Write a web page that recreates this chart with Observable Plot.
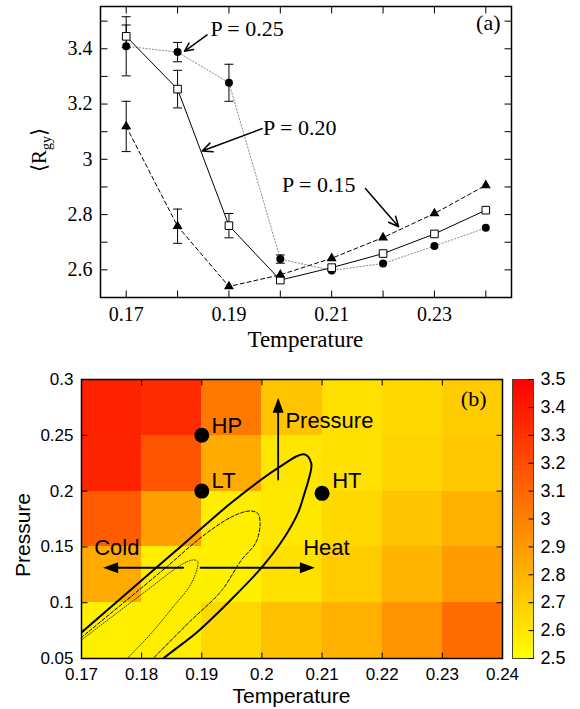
<!DOCTYPE html>
<html><head><meta charset="utf-8">
<script src="https://cdn.jsdelivr.net/npm/d3@7"></script>
<script src="https://cdn.jsdelivr.net/npm/@observablehq/plot@0.6"></script>
<style>
html,body{margin:0;padding:0;background:#fff;}
#chart{position:relative;width:580px;height:709px;overflow:hidden;background:#fff;}
#chart svg{position:absolute;}
</style></head><body><div id="chart"></div>
<script>
// ---------- Panel (a) data ----------
const temperatures = [0.17, 0.18, 0.19, 0.20, 0.21, 0.22, 0.23, 0.24];
const rgyP025 = [3.409, 3.388, 3.277, 2.639, 2.598, 2.623, 2.686, 2.752];
const errP025 = [0.107, 0.035, 0.067, 0.015, 0, 0, 0, 0];
const rgyP020 = [3.445, 3.254, 2.760, 2.563, 2.608, 2.659, 2.730, 2.816];
const errP020 = [0.041, 0.068, 0.044, 0, 0, 0, 0, 0];
const rgyP015 = [3.119, 2.758, 2.540, 2.582, 2.642, 2.717, 2.804, 2.906];
const errP015 = [0.091, 0.062, 0, 0, 0, 0, 0, 0];
const topXTicks = [0.17, 0.18, 0.19, 0.20, 0.21, 0.22, 0.23, 0.24];
const topXLabels = [0.17, 0.19, 0.21, 0.23];
const topYTicks = [2.6, 2.7, 2.8, 2.9, 3.0, 3.1, 3.2, 3.3, 3.4, 3.5];
const topYLabels = [2.6, 2.8, 3, 3.2, 3.4];
const seriesLabels = ["P = 0.25", "P = 0.20", "P = 0.15"];
const labelT = [0.1864, 0.19665, 0.20035];
const labelR = [3.470, 3.114, 2.908];
const arrowFromT = [0.18575, 0.19646, 0.21656];
const arrowFromR = [3.4505, 3.111, 2.8946];
const arrowToT = [0.18134, 0.18479, 0.22303];
const arrowToR = [3.391, 3.0303, 2.756];

// ---------- Panel (b) data ----------
const cellTEdges = [0.17, 0.18, 0.19, 0.20, 0.21, 0.22, 0.23, 0.24];
const cellPEdges = [0.05, 0.10, 0.15, 0.20, 0.25, 0.30];
const rgyRowP005 = [2.559, 2.567, 2.653, 2.747, 2.810, 2.920, 3.076];
const rgyRowP010 = [2.833, 2.567, 2.559, 2.622, 2.700, 2.794, 2.888];
const rgyRowP015 = [3.139, 2.873, 2.567, 2.590, 2.653, 2.731, 2.810];
const rgyRowP020 = [3.359, 3.167, 2.833, 2.598, 2.622, 2.669, 2.716];
const rgyRowP025 = [3.367, 3.335, 3.029, 2.731, 2.622, 2.653, 2.700];
const contourSolidT = [0.1680, 0.1700, 0.1827, 0.1866, 0.1949, 0.2027, 0.2070, 0.2082, 0.2077, 0.2071, 0.2060, 0.2035, 0.1999, 0.1949, 0.1894, 0.1836, 0.1826];
const contourSolidP = [0.0640, 0.0733, 0.1327, 0.1507, 0.1895, 0.2208, 0.2330, 0.2250, 0.2090, 0.1984, 0.1805, 0.1566, 0.1312, 0.1029, 0.0745, 0.0500, 0.0450];
const contourDashedT = [0.1685, 0.1700, 0.1841, 0.1900, 0.1950, 0.1980, 0.1993, 0.1997, 0.1990, 0.1965, 0.1933, 0.1880, 0.1819, 0.1810];
const contourDashedP = [0.0620, 0.0688, 0.1318, 0.1590, 0.1770, 0.1822, 0.1800, 0.1710, 0.1540, 0.1376, 0.1109, 0.0830, 0.0500, 0.0450];
const contourDottedT = [0.1685, 0.1700, 0.1811, 0.1866, 0.1885, 0.1893, 0.1892, 0.1880, 0.1852, 0.1815, 0.1778, 0.1770];
const contourDottedP = [0.0600, 0.0665, 0.1120, 0.1340, 0.1383, 0.1372, 0.1300, 0.1150, 0.0960, 0.0720, 0.0510, 0.0460];
const stateNames = ["HP", "LT", "HT"];
const stateT = [0.19, 0.19, 0.21];
const stateP = [0.25, 0.20, 0.198];
const stateLabelT = [0.19162, 0.19162, 0.21169];
const stateLabelP = [0.2585, 0.2092, 0.2092];
const moveNames = ["Pressure", "Cold", "Heat"];
const moveFromT = [0.2027, 0.1869, 0.1898];
const moveFromP = [0.2104, 0.1313, 0.1313];
const moveToT = [0.2027, 0.1736, 0.2088];
const moveToP = [0.2836, 0.1313, 0.1313];
const moveDir = [0, 270, 90];
const moveLabelT = [0.2039, 0.1721, 0.20686];
const moveLabelP = [0.2630, 0.1495, 0.1495];
const botXTicks = [0.17, 0.18, 0.19, 0.2, 0.21, 0.22, 0.23, 0.24];
const botYTicks = [0.05, 0.1, 0.15, 0.2, 0.25, 0.3];
const colorbarTicks = [2.5, 2.6, 2.7, 2.8, 2.9, 3, 3.1, 3.2, 3.3, 3.4, 3.5];

// ---------- helpers ----------
const tickShape = {draw(c, l) { c.moveTo(0, 0); c.lineTo(0, -l); }};
const headShape = {draw(c, l, r) { c.moveTo(0, -l); c.lineTo(-r, 0); c.lineTo(r, 0); c.closePath(); }};
function frameTicks(xs, ys, len, sw) {
  const o = {length: len, shape: tickShape, anchor: "start", stroke: "black", strokeWidth: sw, strokeLinecap: "butt"};
  return [
    Plot.vector(xs, {x: d => d, frameAnchor: "bottom", rotate: 0, ...o}),
    Plot.vector(xs, {x: d => d, frameAnchor: "top", rotate: 180, ...o}),
    Plot.vector(ys, {y: d => d, frameAnchor: "left", rotate: 90, ...o}),
    Plot.vector(ys, {y: d => d, frameAnchor: "right", rotate: 270, ...o})
  ];
}
const fmt = d => String(d);
const colorScale = {type: "linear", domain: [2.5, 3.5], range: ["#ffff00", "#ff0000"], interpolate: "rgb", clamp: true};

// ---------- Panel (a) ----------
const mk = (vals, errs) => temperatures.map((t, i) => ({t, v: vals[i], e: errs[i]}));
const s025 = mk(rgyP025, errP025), s020 = mk(rgyP020, errP020), s015 = mk(rgyP015, errP015);
const errPts = [...s025, ...s020, ...s015].filter(d => d.e > 0);
const annA = seriesLabels.map((s, i) => ({s, t: labelT[i], r: labelR[i], x1: arrowFromT[i], y1: arrowFromR[i], x2: arrowToT[i], y2: arrowToR[i]}));
const capOpt = {x: "t", length: 9, rotate: 90, anchor: "middle", shape: tickShape, stroke: "black", strokeWidth: 1, strokeLinecap: "butt"};

const plotA = Plot.plot({
  width: 580, height: 360,
  marginLeft: 100, marginRight: 69, marginTop: 6, marginBottom: 63,
  x: {domain: [0.165, 0.245], axis: null},
  y: {domain: [2.5, 3.553], axis: null},
  style: {fontFamily: "Liberation Serif", fontSize: "20px", background: "transparent", color: "black"},
  marks: [
    Plot.line(s025, {x: "t", y: "v", stroke: "#8a8a8a", strokeWidth: 1, strokeDasharray: "1.3,2"}),
    Plot.line(s020, {x: "t", y: "v", stroke: "black", strokeWidth: 1}),
    Plot.line(s015, {x: "t", y: "v", stroke: "black", strokeWidth: 1, strokeDasharray: "4,3"}),
    Plot.ruleX(errPts, {x: "t", y1: d => d.v - d.e, y2: d => d.v + d.e, stroke: "black", strokeWidth: 1}),
    Plot.vector(errPts, {y: d => d.v - d.e, ...capOpt}),
    Plot.vector(errPts, {y: d => d.v + d.e, ...capOpt}),
    Plot.dot(s025, {x: "t", y: "v", r: 4, symbol: "circle", fill: "black"}),
    Plot.dot(s020, {x: "t", y: "v", r: 4.3, symbol: "square", fill: "white", stroke: "black", strokeWidth: 1}),
    Plot.dot(s015, {x: "t", y: "v", r: 3.7, symbol: "triangle", fill: "black"}),
    Plot.arrow(annA, {x1: "x1", y1: "y1", x2: "x2", y2: "y2", stroke: "black", strokeWidth: 1.5, headLength: 11, headAngle: 50}),
    Plot.text(annA, {x: "t", y: "r", text: "s", textAnchor: "start", lineAnchor: "middle", fontSize: 22, fill: "black"}),
    Plot.text(["(a)"], {frameAnchor: "top-right", dx: -11, dy: 16, textAnchor: "end", lineAnchor: "middle", fontSize: 22}),
    Plot.frame({stroke: "black", strokeWidth: 1.5}),
    ...frameTicks(topXTicks, topYTicks, 7, 1),
    Plot.axisX(topXLabels, {anchor: "bottom", tickSize: 0, tickPadding: 9, tickFormat: fmt, label: null, fontSize: 20}),
    Plot.axisY(topYLabels, {anchor: "left", tickSize: 0, tickPadding: 8, tickFormat: fmt, label: null, fontSize: 20})
  ]
});
plotA.style.left = "0px"; plotA.style.top = "0px";
{
  const s = d3.select(plotA);
  s.append("text").attr("x", 305.4).attr("y", 347).attr("text-anchor", "middle")
    .attr("font-family", "Liberation Serif").attr("font-size", 23).attr("fill", "black").text("Temperature");
  const yl = s.append("text").attr("transform", "translate(46,150) rotate(-90)").attr("text-anchor", "middle")
    .attr("font-family", "Liberation Serif").attr("font-size", 21).attr("fill", "black");
  yl.append("tspan").text("\u27E8R");
  yl.append("tspan").attr("font-size", 14).attr("dy", 5).text("gy");
  yl.append("tspan").attr("dy", -5).text("\u27E9");
}

// ---------- Panel (b) ----------
const rows = [rgyRowP005, rgyRowP010, rgyRowP015, rgyRowP020, rgyRowP025];
const cells = [];
rows.forEach((row, j) => row.forEach((v, i) => cells.push({x1: cellTEdges[i], x2: cellTEdges[i + 1], y1: cellPEdges[j], y2: cellPEdges[j + 1], v})));
const toPts = (T, P) => T.map((t, i) => ({t, p: P[i]}));
const states = stateNames.map((n, i) => ({n, t: stateT[i], p: stateP[i], lt: stateLabelT[i], lp: stateLabelP[i]}));
const moves = moveNames.map((n, i) => ({n, x1: moveFromT[i], y1: moveFromP[i], x2: moveToT[i], y2: moveToP[i], rot: moveDir[i], lt: moveLabelT[i], lp: moveLabelP[i]}));

const plotB = Plot.plot({
  width: 580, height: 349,
  marginLeft: 81, marginRight: 78, marginTop: 19, marginBottom: 51,
  x: {domain: [0.17, 0.24], axis: null},
  y: {domain: [0.05, 0.3], axis: null},
  color: colorScale,
  style: {fontFamily: "Liberation Sans", fontSize: "17px", background: "transparent", color: "black"},
  marks: [
    Plot.rect(cells, {x1: "x1", x2: "x2", y1: "y1", y2: "y2", fill: "v", shapeRendering: "crispEdges"}),
    Plot.line(toPts(contourDottedT, contourDottedP), {x: "t", y: "p", curve: "catmull-rom", stroke: "#3a3a1a", strokeWidth: 1, strokeDasharray: "1,1.6", clip: true}),
    Plot.line(toPts(contourDashedT, contourDashedP), {x: "t", y: "p", curve: "catmull-rom", stroke: "black", strokeWidth: 1, strokeDasharray: "3.5,2", clip: true}),
    Plot.line(toPts(contourSolidT, contourSolidP), {x: "t", y: "p", curve: "catmull-rom", stroke: "black", strokeWidth: 2, clip: true}),
    Plot.arrow(moves, {x1: "x1", y1: "y1", x2: "x2", y2: "y2", stroke: "black", strokeWidth: 1.8, headLength: 0, insetEnd: 8}),
    Plot.vector(moves, {x: "x2", y: "y2", rotate: "rot", anchor: "end", length: 15, r: 5.5, shape: headShape, fill: "black", stroke: "none"}),
    Plot.dot(states, {x: "t", y: "p", r: 7.5, fill: "black"}),
    Plot.text(states, {x: "lt", y: "lp", text: "n", textAnchor: "start", lineAnchor: "middle", fontSize: 22, fill: "black"}),
    Plot.text(moves, {x: "lt", y: "lp", text: "n", textAnchor: "start", lineAnchor: "middle", fontSize: 22, fill: "black"}),
    Plot.text(["(b)"], {frameAnchor: "top-right", dx: -16, dy: 19, textAnchor: "end", lineAnchor: "middle", fontSize: 22, fontFamily: "Liberation Serif"}),
    Plot.frame({stroke: "black", strokeWidth: 1.5}),
    ...frameTicks(botXTicks, botYTicks, 6, 1),
    Plot.axisX(botXTicks, {anchor: "bottom", tickSize: 0, tickPadding: 9, tickFormat: fmt, label: null, fontSize: 17}),
    Plot.axisY(botYTicks, {anchor: "left", tickSize: 0, tickPadding: 8, tickFormat: fmt, label: null, fontSize: 17})
  ]
});
plotB.style.left = "0px"; plotB.style.top = "360px";
{
  const s = d3.select(plotB);
  s.append("text").attr("x", 291.5).attr("y", 343).attr("text-anchor", "middle")
    .attr("font-family", "Liberation Sans").attr("font-size", 21).attr("fill", "black").text("Temperature");
  s.append("text").attr("transform", "translate(30,175) rotate(-90)").attr("text-anchor", "middle")
    .attr("font-family", "Liberation Sans").attr("font-size", 21).attr("fill", "black").text("Pressure");
}

// ---------- Colour bar ----------
const cbStep = 0.005;
const cbSteps = d3.range(colorScale.domain[0], colorScale.domain[1] - cbStep / 2, cbStep);
const plotC = Plot.plot({
  width: 76, height: 349,
  marginLeft: 8, marginRight: 47, marginTop: 19, marginBottom: 51,
  y: {domain: colorScale.domain, axis: null},
  color: colorScale,
  style: {fontFamily: "Liberation Sans", fontSize: "18px", background: "transparent", color: "black"},
  marks: [
    Plot.rect(cbSteps, {y1: d => d, y2: d => Math.min(d + cbStep * 1.5, colorScale.domain[1]), fill: d => d + cbStep / 2}),
    Plot.frame({stroke: "#4a4a2a", strokeWidth: 1}),
    Plot.vector(colorbarTicks, {y: d => d, frameAnchor: "right", rotate: 270, length: 5, shape: tickShape, anchor: "start", stroke: "black", strokeWidth: 1, strokeLinecap: "butt"}),
    Plot.axisY(colorbarTicks, {anchor: "right", tickSize: 0, tickPadding: 7, tickFormat: fmt, label: null, fontSize: 18})
  ]
});
plotC.style.left = "504px"; plotC.style.top = "360px";

const root = document.getElementById("chart");
root.appendChild(plotA); root.appendChild(plotB); root.appendChild(plotC);
</script></body></html>
